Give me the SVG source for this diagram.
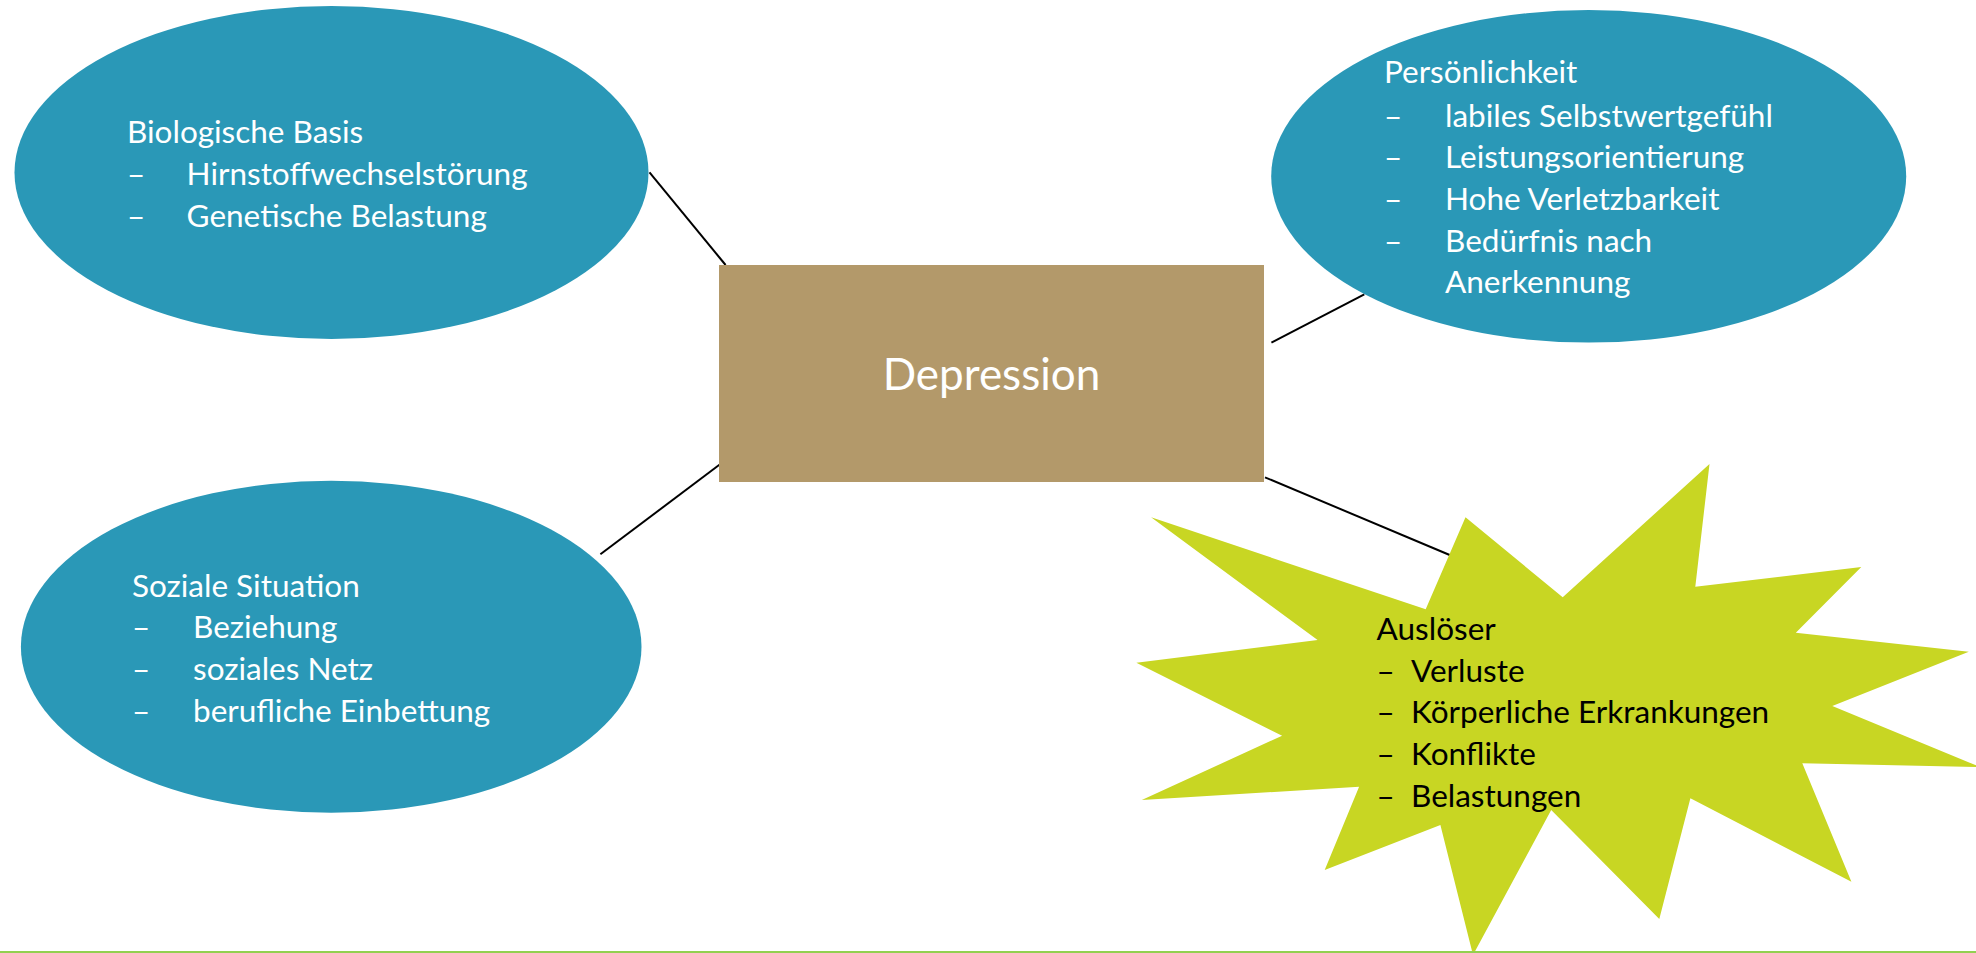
<svg xmlns="http://www.w3.org/2000/svg" width="1976" height="953" viewBox="0 0 1976 953">
<style>
.ell{fill:#2A98B7}
.t{font-family:Lato,"Liberation Sans",sans-serif;font-size:31.5px}
.w{fill:#FFFFFF}
.k{fill:#000000}
.c{stroke:#000;stroke-width:2;fill:none}
</style>
<rect width="1976" height="953" fill="#FFFFFF"/>
<g id="connectors">
<line class="c" x1="649.5" y1="172.3" x2="725.6" y2="265"/>
<line class="c" x1="1271.4" y1="342.7" x2="1364.3" y2="294.3"/>
<line class="c" x1="600.4" y1="554.3" x2="721.4" y2="463.3"/>
<line class="c" x1="1265" y1="477.3" x2="1449.7" y2="555"/>
</g>
<g id="biologische-basis">
<ellipse class="ell" cx="331.5" cy="172.5" rx="317" ry="166.5"/>
<g class="t w">
<text x="127" y="143.3">Biologische Basis</text>
<text x="127" y="185">–</text><text x="186.6" y="185">Hirnstoffwechselstörung</text>
<text x="127" y="226.7">–</text><text x="186.6" y="226.7">Genetische Belastung</text>
</g>
</g>
<g id="persoenlichkeit">
<ellipse class="ell" cx="1588.7" cy="176.3" rx="317.5" ry="166.3"/>
<g class="t w">
<text x="1384" y="83.3">Persönlichkeit</text>
<text x="1384" y="126.7">–</text><text x="1445" y="126.7">labiles Selbstwertgefühl</text>
<text x="1384" y="168.3">–</text><text x="1445" y="168.3">Leistungsorientierung</text>
<text x="1384" y="210">–</text><text x="1445" y="210">Hohe Verletzbarkeit</text>
<text x="1384" y="251.7">–</text><text x="1445" y="251.7">Bedürfnis nach</text>
<text x="1445" y="293.3">Anerkennung</text>
</g>
</g>
<g id="soziale-situation">
<ellipse class="ell" cx="331.2" cy="646.7" rx="310.3" ry="166"/>
<g class="t w">
<text x="132" y="596.7">Soziale Situation</text>
<text x="132" y="638.3">–</text><text x="193" y="638.3">Beziehung</text>
<text x="132" y="680">–</text><text x="193" y="680">soziales Netz</text>
<text x="132" y="721.7">–</text><text x="193" y="721.7">berufliche Einbettung</text>
</g>
</g>
<g id="depression">
<rect x="719" y="265" width="545" height="217" fill="#B3996A"/>
<text x="991.5" y="390" text-anchor="middle" font-family="Lato,'Liberation Sans',sans-serif" font-size="44" fill="#FFFFFF">Depression</text>
</g>
<g id="ausloeser">
<polygon fill="#C8D623" points="1151.1,517.3 1425.7,609.3 1465.5,517.3 1562.7,597.3 1709.5,464 1695.3,586.7 1861.3,567 1795.8,632.7 1968.8,651.7 1832.3,706 1980,767 1802.3,763.3 1851.4,881.7 1690.4,798.3 1659.3,919 1551.2,810 1473,955 1440.4,825 1324.7,870 1359.1,786.7 1141.8,800 1282.1,735.7 1136.4,662.7 1317.6,640"/>
<g class="t k">
<text x="1376.6" y="640">Auslöser</text>
<text x="1376.6" y="681.7">–</text><text x="1411" y="681.7">Verluste</text>
<text x="1376.6" y="723.3">–</text><text x="1411" y="723.3">Körperliche Erkrankungen</text>
<text x="1376.6" y="765">–</text><text x="1411" y="765">Konflikte</text>
<text x="1376.6" y="806.7">–</text><text x="1411" y="806.7">Belastungen</text>
</g>
</g>
<line x1="0" y1="952" x2="1976" y2="952" stroke="#92D050" stroke-width="2"/>
</svg>
